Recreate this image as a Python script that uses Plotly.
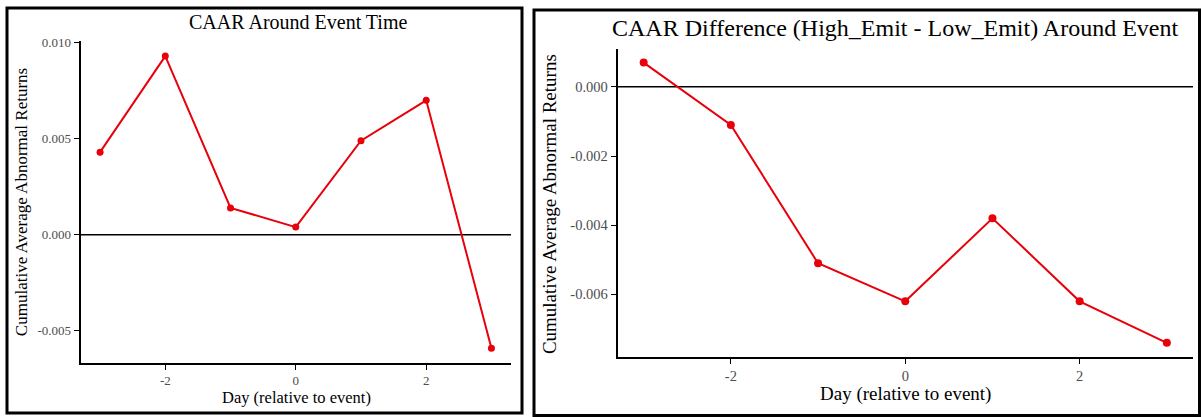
import plotly.graph_objects as go

# ---- data ----
days = [-3, -2, -1, 0, 1, 2, 3]
caar_all = [0.0043, 0.0093, 0.0014, 0.0004, 0.0049, 0.0070, -0.0059]
caar_diff = [0.0007, -0.0011, -0.0051, -0.0062, -0.0038, -0.0062, -0.0074]

x_tickvals = [-2, 0, 2]
x_ticktext = ["-2", "0", "2"]
left_y_tickvals = [-0.005, 0.000, 0.005, 0.010]
left_y_ticktext = ["-0.005", "0.000", "0.005", "0.010"]
right_y_tickvals = [-0.006, -0.004, -0.002, 0.000]
right_y_ticktext = ["-0.006", "-0.004", "-0.002", "0.000"]

left_title = "CAAR Around Event Time"
right_title = "CAAR Difference (High_Emit - Low_Emit) Around Event"
x_label = "Day (relative to event)"
y_label = "Cumulative Average Abnormal Returns"

W, H = 1201, 417
FONT = "Liberation Serif, Times New Roman, serif"
RED = "#E8000B"
TICKCOL = "#4D4D4D"


def expand(vals, frac=0.05):
    lo, hi = min(vals), max(vals)
    d = (hi - lo) * frac
    return [lo - d, hi + d]


def px(x):
    return x / W


def py(y):
    return 1 - y / H


fig = go.Figure()
fig.add_trace(go.Scatter(x=days, y=caar_all, mode="lines+markers",
                         line=dict(color=RED, width=2),
                         marker=dict(color=RED, size=7),
                         xaxis="x", yaxis="y", showlegend=False))
fig.add_trace(go.Scatter(x=days, y=caar_diff, mode="lines+markers",
                         line=dict(color=RED, width=2),
                         marker=dict(color=RED, size=8),
                         xaxis="x2", yaxis="y2", showlegend=False))

axis_common = dict(showline=True, linecolor="black", linewidth=1.6,
                   showgrid=False, zeroline=False, ticks="outside",
                   ticklen=5, tickwidth=1.4, tickcolor="black")

fig.update_layout(
    width=W, height=H, autosize=False,
    margin=dict(l=0, r=0, t=0, b=0),
    paper_bgcolor="white", plot_bgcolor="white",
    font=dict(family=FONT, color="black"),
    xaxis=dict(domain=[px(80.5), px(511)], range=expand(days),
               tickvals=x_tickvals, ticktext=x_ticktext, anchor="y",
               tickfont=dict(family=FONT, size=13, color=TICKCOL), **axis_common),
    yaxis=dict(domain=[py(362), py(36)], range=expand(caar_all),
               tickvals=left_y_tickvals, ticktext=left_y_ticktext, anchor="x",
               tickfont=dict(family=FONT, size=13, color=TICKCOL), **axis_common),
    xaxis2=dict(domain=[px(617.5), px(1193)], range=expand(days),
                tickvals=x_tickvals, ticktext=x_ticktext, anchor="y2",
                tickfont=dict(family=FONT, size=14.5, color=TICKCOL), **axis_common),
    yaxis2=dict(domain=[py(356), py(43.2)], range=expand(caar_diff),
                tickvals=right_y_tickvals, ticktext=right_y_ticktext, anchor="x2",
                tickfont=dict(family=FONT, size=14.5, color=TICKCOL), **axis_common),
)

# zero reference lines
fig.add_shape(type="line", xref="x domain", yref="y", x0=0, x1=1, y0=0, y1=0,
              line=dict(color="black", width=1.4), layer="below")
fig.add_shape(type="line", xref="x2 domain", yref="y2", x0=0, x1=1, y0=0, y1=0,
              line=dict(color="black", width=1.6), layer="below")

# panel borders
fig.add_shape(type="rect", xref="paper", yref="paper",
              x0=px(7), x1=px(522), y0=py(413), y1=py(2),
              line=dict(color="black", width=3))
fig.add_shape(type="rect", xref="paper", yref="paper",
              x0=px(534), x1=px(1199.5), y0=py(415.5), y1=py(4),
              line=dict(color="black", width=3))

ann = [
    dict(text=left_title, x=px(298), y=py(16.5), size=20, angle=0),
    dict(text=right_title, x=px(894.5), y=py(22), size=24, angle=0),
    dict(text=x_label, x=px(296.7), y=py(397), size=16.5, angle=0),
    dict(text=x_label, x=px(905), y=py(393.5), size=19, angle=0),
    dict(text=y_label, x=px(21), y=py(199), size=17, angle=-90),
    dict(text=y_label, x=px(549), y=py(201), size=19, angle=-90),
]
for a in ann:
    fig.add_annotation(text=a["text"], x=a["x"], y=a["y"], xref="paper", yref="paper",
                       xanchor="center", yanchor="middle", showarrow=False,
                       textangle=a["angle"],
                       font=dict(family=FONT, size=a["size"], color="black"))

post = (
    "document.documentElement.style.margin='0px';"
    "document.documentElement.style.overflow='hidden';"
    "document.body.style.margin='0px';"
    "document.body.style.padding='0px';"
    "document.body.style.overflow='hidden';"
    "var gd=document.getElementById('{plot_id}');"
    "gd.style.position='fixed';gd.style.top='0px';gd.style.left='0px';"
)

fig.write_html("out.html",
               config={"displayModeBar": False, "responsive": False},
               post_script=post)
